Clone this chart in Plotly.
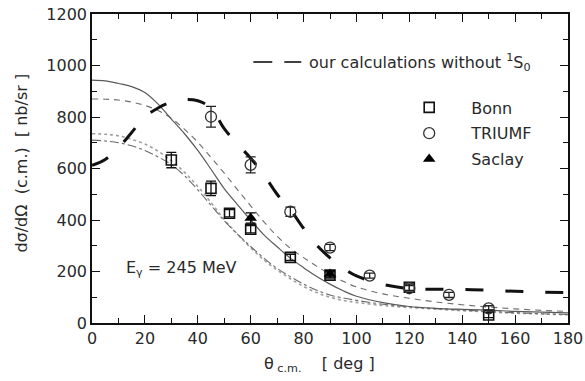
import plotly.graph_objects as go

# ---- data ----
bonn_theta = [30, 45, 52, 60, 75, 90, 120, 150]
bonn_xs = [633, 523, 426, 364, 255, 186, 139, 31]
bonn_err = [30, 28, 14, 14, 12, 12, 12, 10]

triumf_theta = [45, 60, 75, 90, 105, 120, 135, 150]
triumf_xs = [801, 614, 432, 293, 184, 135, 109, 57]
triumf_err = [40, 31, 18, 12, 10, 10, 10, 10]

saclay_theta = [60, 90]
saclay_xs = [408, 190]
saclay_err = [20, 12]

theta_grid = [0, 5, 10, 15, 20, 25, 30, 35, 40, 45, 50, 55, 60, 65, 70, 75, 80, 85, 90,
              95, 100, 110, 120, 130, 140, 150, 160, 170, 180]
solid_curve = [943, 940, 930, 918, 895, 850, 792, 735, 670, 597, 522, 460, 400, 342, 296,
               252, 215, 181, 151, 125, 104, 79, 64, 57, 53, 50, 45, 42, 39]
dashed_curve = [870, 869, 866, 858, 845, 825, 795, 752, 702, 643, 582, 518, 455, 393, 337,
                290, 254, 220, 190, 162, 140, 113, 96, 82, 71, 62, 55, 49, 45]
dotted_curve = [735, 733, 727, 713, 695, 667, 630, 585, 530, 468, 402, 345, 292, 245, 206,
                172, 142, 118, 100, 88, 80, 68, 60, 54, 48, 43, 38, 35, 32]
dashdot_curve = [710, 707, 700, 688, 670, 645, 615, 572, 517, 457, 397, 345, 297, 252, 212,
                 180, 151, 127, 109, 97, 88, 73, 63, 56, 50, 45, 40, 36, 33]
no1s0_curve = [612, 635, 680, 740, 800, 835, 858, 868, 863, 835, 755, 695, 640, 575, 500,
               440, 368, 302, 253, 213, 183, 150, 134, 131, 130, 127, 123, 120, 118]

x_ticks = [0, 20, 40, 60, 80, 100, 120, 140, 160, 180]
y_ticks = [0, 200, 400, 600, 800, 1000, 1200]

FONT = "DejaVu Sans"
TXT = "#2a2a2a"

fig = go.Figure()

fig.add_trace(go.Scatter(x=theta_grid, y=dotted_curve, mode="lines", line_shape="spline",
                         line=dict(color="#a0a0a0", width=1.6, dash="dot"), showlegend=False))
fig.add_trace(go.Scatter(x=theta_grid, y=dashdot_curve, mode="lines", line_shape="spline",
                         line=dict(color="#6a6a6a", width=1.1, dash="dashdot"), showlegend=False))
fig.add_trace(go.Scatter(x=theta_grid, y=dashed_curve, mode="lines", line_shape="spline",
                         line=dict(color="#6f6f6f", width=1.1, dash="6px,5px"), showlegend=False))
fig.add_trace(go.Scatter(x=theta_grid, y=solid_curve, mode="lines", line_shape="spline",
                         line=dict(color="#5a5a5a", width=1.2), showlegend=False))
fig.add_trace(go.Scatter(x=theta_grid, y=no1s0_curve, mode="lines", line_shape="spline",
                         line=dict(color="#111111", width=3, dash="18px,22px"), showlegend=False))

fig.add_trace(go.Scatter(x=bonn_theta, y=bonn_xs, mode="markers", name="Bonn",
                         legendgroup="a",
                         marker=dict(symbol="square-open", size=10, color="#111111",
                                     line=dict(width=1.6, color="#111111")),
                         error_y=dict(type="data", array=bonn_err, color="#111111",
                                      thickness=1.3, width=5)))
fig.add_trace(go.Scatter(x=triumf_theta, y=triumf_xs, mode="markers", name="TRIUMF",
                         legendgroup="b",
                         marker=dict(symbol="circle-open", size=11, color="#333333",
                                     line=dict(width=1.3, color="#333333")),
                         error_y=dict(type="data", array=triumf_err, color="#222222",
                                      thickness=1.3, width=5)))
fig.add_trace(go.Scatter(x=saclay_theta, y=saclay_xs, mode="markers", name="Saclay",
                         legendgroup="c",
                         marker=dict(symbol="triangle-up", size=11, color="#000000"),
                         error_y=dict(type="data", array=saclay_err, color="#000000",
                                      thickness=1.3, width=5)))

FW, FH = 585, 381
# plot area in window pixels: x 91.5..568, y 14..323
L, R, T, B = 91.5, 568.0, 14.0, 323.0
W, H = R - L, B - T


def px(x):
    return (x - L) / W


def py(y):
    return (B - y) / H


fig.update_layout(
    width=FW, height=FH,
    margin=dict(l=L, r=FW - R, t=T, b=FH - B, autoexpand=False),
    paper_bgcolor="white", plot_bgcolor="white",
    font=dict(family=FONT, size=16, color=TXT),
    showlegend=True,
    legend=dict(x=px(387), y=py(90.5), xanchor="left", yanchor="top",
                bgcolor="rgba(0,0,0,0)", borderwidth=0,
                font=dict(family=FONT, size=16, color=TXT),
                itemwidth=74, traceorder="grouped", tracegroupgap=2),
    xaxis=dict(range=[0, 180], tickvals=x_ticks, ticks="inside", ticklen=8, tickwidth=1.3,
               tickcolor="#111", showline=True, linecolor="#111", linewidth=1.5,
               mirror="ticks", showgrid=False, zeroline=False,
               minor=dict(ticks="inside", ticklen=5, tickwidth=1.3, tickcolor="#111",
                          dtick=10, tick0=0, showgrid=False),
               tickfont=dict(family=FONT, size=16, color=TXT)),
    yaxis=dict(range=[0, 1200], tickvals=y_ticks, ticks="inside", ticklen=8, tickwidth=1.3,
               tickcolor="#111", showline=True, linecolor="#111", linewidth=1.5,
               mirror="ticks", showgrid=False, zeroline=False,
               minor=dict(ticks="inside", ticklen=5, tickwidth=1.3, tickcolor="#111",
                          dtick=100, tick0=0, showgrid=False),
               tickfont=dict(family=FONT, size=16, color=TXT)),
)

# legend entry for thick dashed curve (drawn as decorations)
fig.add_shape(type="line", xref="paper", yref="paper", x0=px(253), x1=px(272),
              y0=py(62), y1=py(62), line=dict(color="#111", width=1.6))
fig.add_shape(type="line", xref="paper", yref="paper", x0=px(284), x1=px(301),
              y0=py(62), y1=py(62), line=dict(color="#111", width=1.6))
fig.add_annotation(xref="paper", yref="paper", x=px(307), y=py(62), xanchor="left",
                   yanchor="middle", showarrow=False,
                   text="our calculations without <sup>1</sup>S<sub>0</sub>",
                   font=dict(family=FONT, size=16, color=TXT))

fig.add_annotation(xref="paper", yref="paper", x=px(124), y=py(268), xanchor="left",
                   yanchor="middle", showarrow=False,
                   text="E<sub>γ</sub> = 245 MeV",
                   font=dict(family=FONT, size=16, color=TXT))

fig.add_annotation(xref="paper", yref="paper", x=px(262), y=py(364), xanchor="left",
                   yanchor="middle", showarrow=False,
                   text="θ<sub> c.m.</sub>    [ deg ]",
                   font=dict(family=FONT, size=16, color=TXT))

fig.add_annotation(xref="paper", yref="paper", x=px(20), y=py(163), xanchor="center",
                   yanchor="middle", showarrow=False, textangle=-90,
                   text="dσ/dΩ  (c.m.)  [ nb/sr ]",
                   font=dict(family=FONT, size=16, color=TXT))

fig.write_html(
    "out.html",
    config={"displayModeBar": False},
    post_script="document.body.style.margin='0';document.body.style.overflow='hidden';",
)
